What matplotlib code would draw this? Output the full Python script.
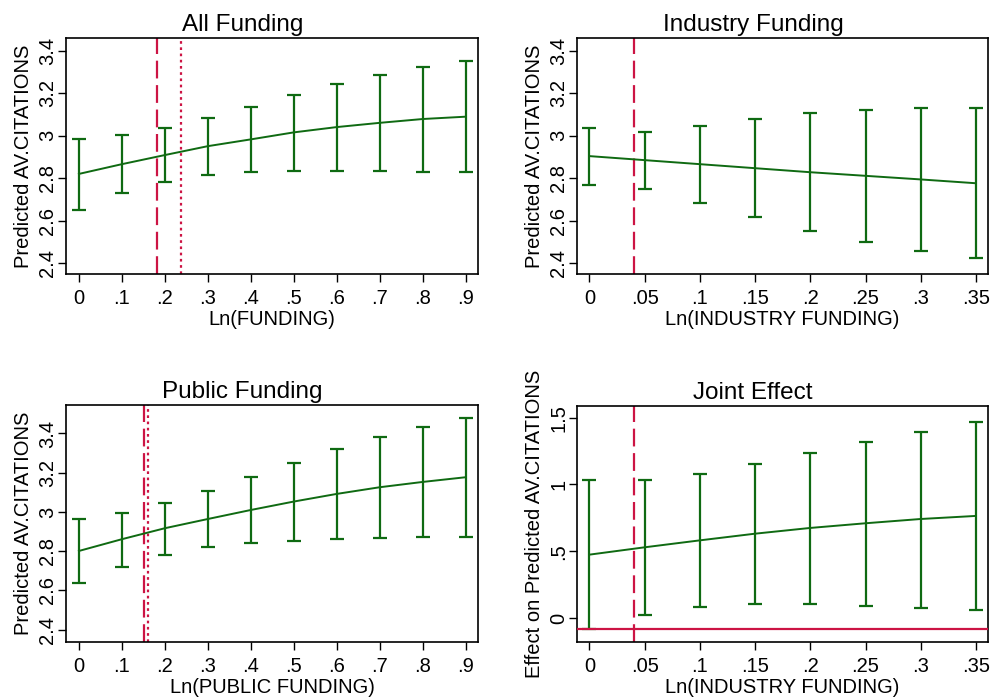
import matplotlib
matplotlib.use("Agg")
import matplotlib.pyplot as plt
import numpy as np

plt.rcParams['font.family'] = ['Liberation Sans', 'DejaVu Sans']

GREEN = '#0f6a12'
RED = '#cc1444'

# Panel 1: All Funding
x_all = [0, .1, .2, .3, .4, .5, .6, .7, .8, .9]
y_all = [2.820, 2.866, 2.909, 2.951, 2.983, 3.016, 3.041, 3.061, 3.079, 3.090]
hi_all = [2.986, 3.003, 3.038, 3.082, 3.135, 3.192, 3.246, 3.287, 3.326, 3.353]
lo_all = [2.649, 2.728, 2.781, 2.813, 2.830, 2.836, 2.836, 2.833, 2.830, 2.827]
vdash_all = 0.181
vdot_all = 0.237

# Panel 2: Industry Funding
x_ind = [0, .05, .1, .15, .2, .25, .3, .35]
y_ind = [2.904, 2.885, 2.866, 2.847, 2.828, 2.811, 2.794, 2.776]
hi_ind = [3.036, 3.020, 3.047, 3.080, 3.106, 3.123, 3.129, 3.129]
lo_ind = [2.770, 2.748, 2.685, 2.616, 2.553, 2.501, 2.457, 2.424]
vdash_ind = 0.04

# Panel 3: Public Funding
x_pub = [0, .1, .2, .3, .4, .5, .6, .7, .8, .9]
y_pub = [2.801, 2.861, 2.917, 2.964, 3.010, 3.053, 3.092, 3.126, 3.153, 3.177]
hi_pub = [2.966, 2.997, 3.046, 3.107, 3.179, 3.250, 3.320, 3.381, 3.434, 3.480]
lo_pub = [2.636, 2.721, 2.781, 2.820, 2.840, 2.852, 2.862, 2.867, 2.872, 2.872]
vdash_pub = 0.151
vdot_pub = 0.161

# Panel 4: Joint Effect
x_joint = [0, .05, .1, .15, .2, .25, .3, .35]
y_joint = [0.474, 0.529, 0.581, 0.631, 0.674, 0.709, 0.741, 0.764]
hi_joint = [1.031, 1.031, 1.078, 1.150, 1.238, 1.320, 1.395, 1.467]
lo_joint = [-0.082, 0.025, 0.082, 0.102, 0.102, 0.092, 0.077, 0.060]
vdash_joint = 0.04
hline_joint = -0.08

ticks_fund = [0, .1, .2, .3, .4, .5, .6, .7, .8, .9]
ticklabels_fund = ['0', '.1', '.2', '.3', '.4', '.5', '.6', '.7', '.8', '.9']
ticks_ind = [0, .05, .1, .15, .2, .25, .3, .35]
ticklabels_ind = ['0', '.05', '.1', '.15', '.2', '.25', '.3', '.35']
yticks_pred = [2.4, 2.6, 2.8, 3.0, 3.2, 3.4]
yticklabels_pred = ['2.4', '2.6', '2.8', '3', '3.2', '3.4']
yticks_joint = [0, 0.5, 1.0, 1.5]
yticklabels_joint = ['0', '.5', '1', '1.5']

fig = plt.figure(figsize=(9.94, 6.97), dpi=100)
W, H = 994, 697

def make_ax(x0, y0, x1, y1):
    return fig.add_axes([x0 / W, 1 - y1 / H, (x1 - x0) / W, (y1 - y0) / H])

def draw(ax, x, y, lo, hi, title, xlabel, ylabel, xt, xtl, yt, ytl, xlim, ylim):
    x = np.array(x); y = np.array(y)
    err = [y - np.array(lo), np.array(hi) - y]
    ax.errorbar(x, y, yerr=err, fmt='none', ecolor=GREEN, elinewidth=1.6,
                capsize=5, capthick=1.6, zorder=3)
    ax.plot(x, y, color=GREEN, lw=1.4, zorder=3)
    ax.set_xlim(*xlim); ax.set_ylim(*ylim)
    ax.set_xticks(xt); ax.set_xticklabels(xtl)
    ax.set_yticks(yt); ax.set_yticklabels(ytl)
    ax.tick_params(axis='both', direction='out', length=5.5, width=1, labelsize=14.5, colors='black')
    ax.tick_params(axis='x', pad=5)
    ax.tick_params(axis='y', pad=0.7)
    for lab in ax.get_yticklabels():
        lab.set_rotation(90)
        lab.set_va('center')
        lab.set_ha('right')
    for s in ax.spines.values():
        s.set_linewidth(1.2)
        s.set_color('black')
    ax.set_title(title, fontsize=17.5, pad=5, x=0.428)
    ax.set_xlabel(xlabel, fontsize=14.5, labelpad=2)
    ax.set_ylabel(ylabel, fontsize=14.5, labelpad=4)

ax1 = make_ax(66, 38, 478, 274)
draw(ax1, x_all, y_all, lo_all, hi_all, 'All Funding', 'Ln(FUNDING)', 'Predicted AV.CITATIONS',
     ticks_fund, ticklabels_fund, yticks_pred, yticklabels_pred, (-0.030, 0.928), (2.348, 3.461))
ax1.axvline(vdash_all, color=RED, lw=1.6, dashes=(8, 3), zorder=2)
ax1.axvline(vdot_all, color=RED, lw=1.6, dashes=(1.2, 1.6), zorder=2)

ax2 = make_ax(577, 38, 988, 274)
draw(ax2, x_ind, y_ind, lo_ind, hi_ind, 'Industry Funding', 'Ln(INDUSTRY FUNDING)', 'Predicted AV.CITATIONS',
     ticks_ind, ticklabels_ind, yticks_pred, yticklabels_pred, (-0.0112, 0.3609), (2.348, 3.461))
ax2.axvline(vdash_ind, color=RED, lw=1.6, dashes=(8, 3), zorder=2)

ax3 = make_ax(66, 405, 478, 642)
draw(ax3, x_pub, y_pub, lo_pub, hi_pub, 'Public Funding', 'Ln(PUBLIC FUNDING)', 'Predicted AV.CITATIONS',
     ticks_fund, ticklabels_fund, yticks_pred, yticklabels_pred, (-0.030, 0.928), (2.337, 3.545))
ax3.axvline(vdash_pub, color=RED, lw=1.6, dashes=(8, 3), zorder=2)
ax3.axvline(vdot_pub, color=RED, lw=1.6, dashes=(1.2, 1.6), zorder=2)

ax4 = make_ax(577, 406, 988, 642)
draw(ax4, x_joint, y_joint, lo_joint, hi_joint, 'Joint Effect', 'Ln(INDUSTRY FUNDING)',
     'Effect on Predicted AV.CITATIONS',
     ticks_ind, ticklabels_ind, yticks_joint, yticklabels_joint, (-0.0112, 0.3609), (-0.180, 1.587))
ax4.axvline(vdash_joint, color=RED, lw=1.6, dashes=(8, 3), zorder=2)
ax4.axhline(hline_joint, color=RED, lw=1.6, zorder=4)

fig.savefig('out.png', dpi=100)
